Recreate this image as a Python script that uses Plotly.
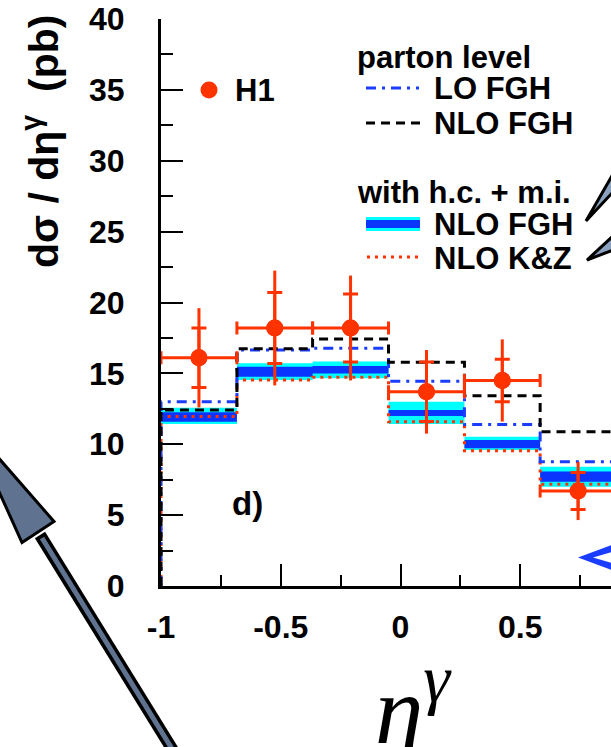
import plotly.graph_objects as go

# ---------------- data ----------------
bin_edges = [-1.0, -0.683, -0.367, -0.05, 0.267, 0.583, 0.9]

h1_xsec = [16.1, 18.2, 18.2, 13.7, 14.5, 6.7]
h1_stat = [2.1, 2.5, 2.4, 2.1, 1.5, 1.3]
h1_total = [3.5, 4.05, 3.7, 2.95, 2.9, 2.05]

lo_fgh = [13.0, 16.65, 16.77, 14.44, 11.4, 8.77]
nlo_fgh = [12.42, 16.74, 17.42, 15.78, 13.43, 10.89]

hcmi_fgh_outer_lo = [11.43, 14.53, 14.65, 11.43, 9.59, 7.0]
hcmi_fgh_outer_hi = [12.58, 15.71, 15.83, 13.0, 10.53, 8.42]
hcmi_fgh_inner_lo = [11.59, 14.77, 15.0, 11.99, 9.71, 7.36]
hcmi_fgh_inner_hi = [12.25, 15.47, 15.52, 12.42, 10.3, 8.07]
hcmi_kz = [11.95, 14.53, 14.72, 11.59, 9.55, 7.17]

x_tick_vals = [-1, -0.5, 0, 0.5]
x_tick_text = ["-1", "-0.5", "0", "0.5"]
y_tick_vals = [0, 5, 10, 15, 20, 25, 30, 35, 40]
y_tick_text = ["0", "5", "10", "15", "20", "25", "30", "35", "40"]

# ---------------- styling ----------------
RED = "#ff3300"
BLUE = "#1a3cff"
CYAN = "#00ffff"
BAND_BLUE = "#0a34ff"
GREY = "#5f7390"
FONT = "Liberation Sans"

W, H = 611, 747
L, R, T, B = 161, 611, 19, 586


def px(x):
    return (x - L) / (R - L)


def py(y):
    return (B - y) / (B - T)


centers = [(a + b) / 2 for a, b in zip(bin_edges[:-1], bin_edges[1:])]
halfw = [(b - a) / 2 for a, b in zip(bin_edges[:-1], bin_edges[1:])]


def step_from_zero(vals):
    xs = [bin_edges[0]] + list(bin_edges)
    ys = [0] + list(vals) + [vals[-1]]
    return xs, ys


def step(vals):
    return list(bin_edges), list(vals) + [vals[-1]]


fig = go.Figure()

# bands: NLO FGH with h.c. + m.i.
for lo, hi, col in [(hcmi_fgh_outer_lo, hcmi_fgh_outer_hi, CYAN),
                    (hcmi_fgh_inner_lo, hcmi_fgh_inner_hi, BAND_BLUE)]:
    xs, ys = step(lo)
    fig.add_trace(go.Scatter(x=xs, y=ys, mode="lines", line=dict(width=0, shape="hv"),
                             showlegend=False, hoverinfo="skip"))
    xs, ys = step(hi)
    fig.add_trace(go.Scatter(x=xs, y=ys, mode="lines", line=dict(width=0, shape="hv"),
                             fill="tonexty", fillcolor=col, showlegend=False, hoverinfo="skip"))

# K&Z dotted
xs, ys = step_from_zero(hcmi_kz)
fig.add_trace(go.Scatter(x=xs, y=ys, mode="lines",
                         line=dict(color=RED, width=3, shape="hv", dash="3px,5px"),
                         showlegend=False))
# LO FGH dash-dot
xs, ys = step_from_zero(lo_fgh)
fig.add_trace(go.Scatter(x=xs, y=ys, mode="lines",
                         line=dict(color=BLUE, width=3, shape="hv", dash="10px,6px,3px,6px"),
                         showlegend=False))
# NLO FGH dashed
xs, ys = step_from_zero(nlo_fgh)
fig.add_trace(go.Scatter(x=xs, y=ys, mode="lines",
                         line=dict(color="black", width=3, shape="hv", dash="9px,6px"),
                         showlegend=False))

# H1 data: total errors + bin widths
fig.add_trace(go.Scatter(
    x=centers, y=h1_xsec, mode="markers",
    marker=dict(color=RED, size=17),
    error_x=dict(type="data", array=halfw, color=RED, thickness=3, width=6.5),
    error_y=dict(type="data", array=h1_total, color=RED, thickness=3, width=0),
    showlegend=False))
# H1 data: statistical errors (with ticks)
fig.add_trace(go.Scatter(
    x=centers, y=h1_xsec, mode="markers",
    marker=dict(color=RED, size=17),
    error_y=dict(type="data", array=h1_stat, color=RED, thickness=3, width=7.5),
    showlegend=False))

# ---------------- axes ----------------
tickfont = dict(family=FONT, size=32, color="black", weight="bold")
fig.update_layout(
    width=W, height=H,
    margin=dict(l=L, r=W - R, t=T, b=H - B, pad=0),
    paper_bgcolor="white", plot_bgcolor="white",
    showlegend=False,
    xaxis=dict(range=[-1, -1 + (R - L) / 239.5], showgrid=False, zeroline=False,
               showline=True, linewidth=3, linecolor="black",
               ticks="inside", ticklen=22, tickwidth=2, tickcolor="black",
               tickmode="array", tickvals=x_tick_vals, ticktext=x_tick_text,
               minor=dict(tickmode="linear", tick0=0, dtick=0.25, ticks="inside",
                          ticklen=11, tickwidth=2, tickcolor="black"),
               tickfont=tickfont, ticklabelstandoff=11),
    yaxis=dict(range=[0, 40], showgrid=False, zeroline=False,
               showline=True, linewidth=3, linecolor="black",
               ticks="inside", ticklen=22, tickwidth=2, tickcolor="black",
               tickmode="array", tickvals=y_tick_vals, ticktext=y_tick_text,
               minor=dict(tickmode="linear", tick0=0, dtick=2.5, ticks="inside",
                          ticklen=12, tickwidth=2, tickcolor="black"),
               tickfont=tickfont, ticklabelstandoff=27),
    xaxis2=dict(overlaying="x", side="top", anchor="y", matches="x",
                showgrid=False, zeroline=False, showline=True, linewidth=3,
                linecolor="black", ticks="inside", ticklen=12, tickwidth=2,
                tickcolor="black", tickmode="linear", tick0=0, dtick=0.5,
                minor=dict(tickmode="linear", tick0=0, dtick=0.25, ticks="inside",
                           ticklen=10, tickwidth=2, tickcolor="black"),
                showticklabels=False),
    yaxis2=dict(overlaying="y", side="right", anchor="x", range=[0, 40],
                showgrid=False, zeroline=False, showline=False,
                ticks="inside", ticklen=17, tickwidth=2, tickcolor="#333333",
                tickmode="linear", tick0=0, dtick=5,
                minor=dict(tickmode="linear", tick0=0, dtick=2.5, ticks="inside",
                           ticklen=7, tickwidth=2, tickcolor="#555555"),
                showticklabels=False),
)

# ---------------- decorations ----------------
shapes = []
# big arrow bottom-left
shapes.append(dict(type="line", xref="paper", yref="paper",
                   x0=px(182), y0=py(765), x1=px(40), y1=py(535),
                   line=dict(color="black", width=12)))
shapes.append(dict(type="line", xref="paper", yref="paper",
                   x0=px(182), y0=py(765), x1=px(42), y1=py(538),
                   line=dict(color=GREY, width=5)))
head = [(-32, 423), (54, 521.5), (22, 542.5)]
path = "M " + " L ".join(f"{px(a):.5f},{py(b):.5f}" for a, b in head) + " Z"
shapes.append(dict(type="path", xref="paper", yref="paper", path=path,
                   fillcolor=GREY, line=dict(color="black", width=3)))
# right wedges
for pts in [[(586, 221), (613, 174), (613, 192)], [(587, 260), (613, 236), (613, 250)]]:
    path = "M " + " L ".join(f"{px(a):.5f},{py(b):.5f}" for a, b in pts) + " Z"
    shapes.append(dict(type="path", xref="paper", yref="paper", path=path,
                       fillcolor="#8aa2c0", line=dict(color="black", width=3)))
# blue chevron bottom-right
chev = [(612, 545), (578, 557.5), (612, 570), (612, 563), (593, 557.5), (612, 552)]
path = "M " + " L ".join(f"{px(a):.5f},{py(b):.5f}" for a, b in chev) + " Z"
shapes.append(dict(type="path", xref="paper", yref="paper", path=path,
                   fillcolor=BLUE, line=dict(width=0)))

# legend samples
shapes.append(dict(type="circle", xref="paper", yref="paper",
                   x0=px(200.5), x1=px(217.5), y0=py(98.5), y1=py(81.5),
                   fillcolor=RED, line=dict(width=0)))
shapes.append(dict(type="line", xref="paper", yref="paper",
                   x0=px(366), x1=px(419), y0=py(88), y1=py(88),
                   line=dict(color=BLUE, width=3, dash="10px,6px,3px,6px")))
shapes.append(dict(type="line", xref="paper", yref="paper",
                   x0=px(366), x1=px(420), y0=py(123), y1=py(123),
                   line=dict(color="black", width=3, dash="9px,6px")))
shapes.append(dict(type="rect", xref="paper", yref="paper",
                   x0=px(366), x1=px(420), y0=py(231), y1=py(217),
                   fillcolor=CYAN, line=dict(width=0)))
shapes.append(dict(type="rect", xref="paper", yref="paper",
                   x0=px(366), x1=px(420), y0=py(228), y1=py(220),
                   fillcolor=BAND_BLUE, line=dict(width=0)))
shapes.append(dict(type="line", xref="paper", yref="paper",
                   x0=px(367), x1=px(418), y0=py(257), y1=py(257),
                   line=dict(color=RED, width=3, dash="3px,5px")))
fig.update_layout(shapes=shapes)

bold = dict(family=FONT, size=31, color="black", weight="bold")
ann = []


def text_at(t, x, y, font=bold, xanchor="left", **kw):
    ann.append(dict(text=t, xref="paper", yref="paper", x=px(x), y=py(y),
                    xanchor=xanchor, yanchor="middle", showarrow=False, font=font,
                    borderpad=0, **kw))


text_at("H1", 234, 90)
text_at("parton level", 356, 57)
text_at("LO FGH", 433, 88)
text_at("NLO FGH", 433, 123)
text_at("with h.c. + m.i.", 356, 192)
text_at("NLO FGH", 433, 224)
text_at("NLO K&amp;Z", 433, 258)
text_at("d)", 231, 503, font=dict(family=FONT, size=33, color="black", weight="bold"))
# y-axis title
text_at("d\u03c3 / d\u03b7<sup>\u03b3</sup>\u00a0\u00a0(pb)", 41, 141,
        font=dict(family=FONT, size=41, color="black", weight="bold"),
        xanchor="center", textangle=-90)
# x-axis title
text_at("<i>\u03b7</i><sup><i>\u03b3</i></sup>", 413, 702,
        font=dict(family="Liberation Serif", size=97, color="black"),
        xanchor="center")
fig.update_layout(annotations=ann)

fig.write_html("out.html", config={"displayModeBar": False},
               post_script="document.body.style.margin='0';")
